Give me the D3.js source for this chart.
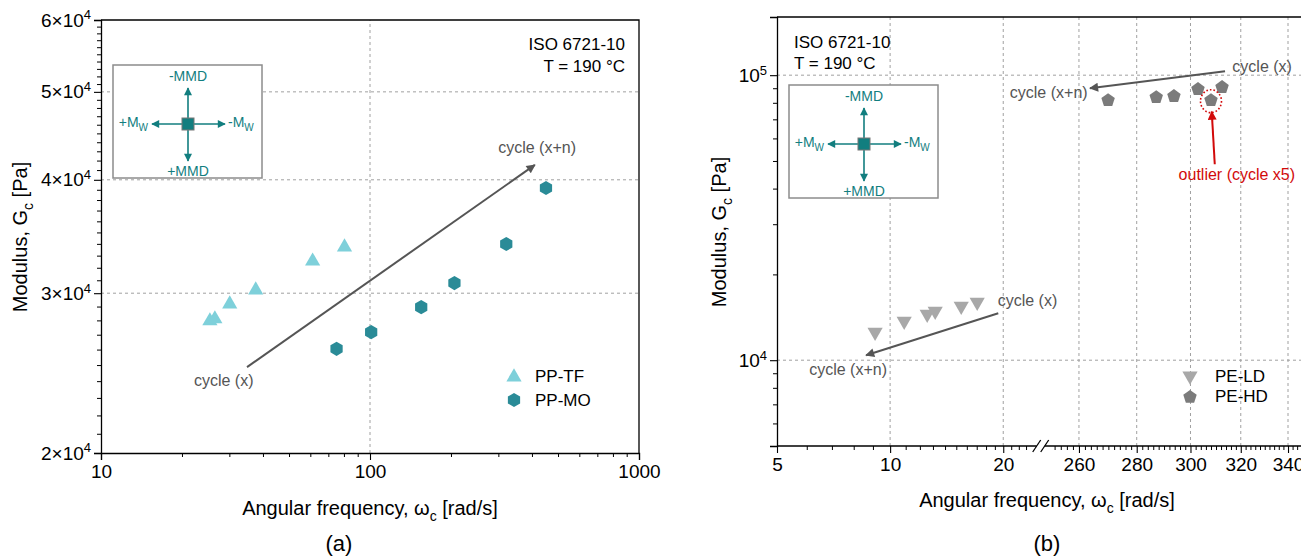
<!DOCTYPE html>
<html>
<head>
<meta charset="utf-8">
<script src="https://cdn.jsdelivr.net/npm/d3@7"></script>
<style>
body { margin: 0; background: #fff; }
svg text { font-family: "Liberation Sans", Arial, sans-serif; }
</style>
</head>
<body>
<svg id="chart" width="1301" height="558"></svg>
<script>
// ---- panel (a): PP ----
var ppTfFreq = [25.4, 26.5, 30.1, 37.6, 61.2, 80.4];
var ppTfMod  = [27960, 28100, 29180, 30240, 32540, 33730];
var ppMoFreq = [75.1, 101, 155, 206, 321, 451];
var ppMoMod  = [26050, 27180, 28960, 30780, 33990, 39180];

// ---- panel (b): PE ----
var peLdFreq = [9.12, 10.9, 12.55, 13.18, 15.46, 17.05];
var peLdMod  = [12540, 13700, 14500, 14850, 15470, 15980];
var peHdFreq = [269.9, 287.1, 293.7, 302.9, 312.4, 308.0];
var peHdMod  = [81700, 83700, 84400, 89300, 90760, 81700];
var outlierIdx = 5;

// tick labels
var aXTicks = [10, 100, 1000];
var aYTicks = [20000, 30000, 40000, 50000, 60000];
var bXTicksLow = [5, 10, 20];
var bXTicksHigh = [260, 280, 300, 320, 340];
var bYTicks = [10000, 100000];

var colTF = "#7ed0da", colMO = "#2a8b97", colLD = "#a8a8a8", colHD = "#7b7b7b";
var teal = "#127e7f", arrowGrey = "#555", red = "#d20a0a";

var svg = d3.select("#chart");

// custom polygon symbols
function polySymbol(n) {
    return {
        draw: function(ctx, size) {
            var r = Math.sqrt(size);
            for (var i = 0; i < n; i++) {
                var a = -Math.PI / 2 + i * 2 * Math.PI / n;
                if (i == 0) ctx.moveTo(r * Math.cos(a), r * Math.sin(a));
                else ctx.lineTo(r * Math.cos(a), r * Math.sin(a));
            }
            ctx.closePath();
        }
    };
}
var hexSym = d3.symbol().type(polySymbol(6)).size(50);
var pentSym = d3.symbol().type(polySymbol(5)).size(50);
var triSym = d3.symbol().type(d3.symbolTriangle).size(100);

var defs = svg.append("defs");
function head(id, col, w, h) {
    defs.append("marker")
        .attr("id", id).attr("viewBox", "0 0 10 10")
        .attr("refX", 9).attr("refY", 5)
        .attr("markerWidth", w).attr("markerHeight", h)
        .attr("markerUnits", "userSpaceOnUse")
        .attr("orient", "auto")
        .append("path").attr("d", "M0,0L10,5L0,10Z").attr("fill", col);
}
head("headGrey", arrowGrey, 12, 9);
head("headRed", red, 10, 9);
head("headTeal", teal, 9, 8);

function supLabels(g, fmt) {
    g.selectAll(".tick text").each(function(d) {
        var t = d3.select(this);
        var p = fmt(d);
        t.text(null);
        t.append("tspan").text(p[0]);
        t.append("tspan").attr("dy", "-0.55em").attr("font-size", "13px").text(p[1]);
    });
}

function styleAxis(g) {
    g.select(".domain").attr("stroke", "#000").attr("stroke-width", 1.3);
    g.selectAll(".tick line").attr("stroke", "#000").attr("stroke-width", 1.1);
    g.selectAll(".tick text").attr("font-size", "19px").attr("fill", "#000")
        .attr("font-family", "'Liberation Sans', Arial, sans-serif");
}

function minorTicks(from, to, step, skip) {
    var out = [];
    for (var v = from; v <= to + 1e-9; v += step) {
        var r = Math.round(v * 1000) / 1000;
        if (skip.indexOf(r) < 0) out.push(r);
    }
    return out;
}

function inset(left, top) {
    var g = svg.append("g").attr("transform", "translate(" + left + "," + top + ")");
    g.append("rect").attr("width", 149).attr("height", 113)
        .attr("fill", "#fff").attr("stroke", "#8c8c8c").attr("stroke-width", 1.5);
    var cx = 75, cy = 59;
    [[0, -36], [0, 37], [-36, 0], [37, 0]].forEach(function(d) {
        g.append("line").attr("x1", cx).attr("y1", cy)
            .attr("x2", cx + d[0]).attr("y2", cy + d[1])
            .attr("stroke", teal).attr("stroke-width", 1.6)
            .attr("marker-end", "url(#headTeal)");
    });
    g.append("rect").attr("x", cx - 6).attr("y", cy - 6).attr("width", 12).attr("height", 12)
        .attr("fill", teal).attr("stroke", "#777").attr("stroke-width", 1);
    var tf = "14px";
    g.append("text").attr("x", cx).attr("y", cy - 43).attr("text-anchor", "middle")
        .attr("font-size", tf).attr("fill", teal).text("-MMD");
    g.append("text").attr("x", cx).attr("y", cy + 52).attr("text-anchor", "middle")
        .attr("font-size", tf).attr("fill", teal).text("+MMD");
    var l = g.append("text").attr("x", cx - 40).attr("y", cy + 3).attr("text-anchor", "end")
        .attr("font-size", tf).attr("fill", teal);
    l.append("tspan").text("+M");
    l.append("tspan").attr("dy", 4).attr("font-size", "10px").text("W");
    var r = g.append("text").attr("x", cx + 40).attr("y", cy + 3).attr("text-anchor", "start")
        .attr("font-size", tf).attr("fill", teal);
    r.append("tspan").text("-M");
    r.append("tspan").attr("dy", 4).attr("font-size", "10px").text("W");
}

function annot(x, y, txt, col, anchor) {
    svg.append("text").attr("x", x).attr("y", y).attr("text-anchor", anchor || "middle")
        .attr("font-size", "16px").attr("fill", col || "#555").text(txt);
}

function subTitle(x, y, main, sub, rest, rot) {
    var t = svg.append("text").attr("text-anchor", "middle").attr("font-size", "20px").attr("fill", "#000")
        .attr("transform", "translate(" + x + "," + y + ")" + (rot ? " rotate(-90)" : ""));
    t.append("tspan").text(main);
    t.append("tspan").attr("dy", 6).attr("font-size", "14px").text(sub);
    t.append("tspan").attr("dy", -6).text(rest);
}

// =================== panel (a) ===================
var xA = d3.scaleLog().domain([10, 1000]).range([101, 639]);
var yA = d3.scaleLog().domain([20000, 60000]).range([453, 20]);

var gridA = svg.append("g").attr("stroke", "#a0a0a0").attr("stroke-dasharray", "3,3").attr("stroke-width", 1);
gridA.selectAll(".gx").data([100]).enter().append("line")
    .attr("x1", function(d) { return xA(d); }).attr("x2", function(d) { return xA(d); })
    .attr("y1", yA(20000)).attr("y2", yA(60000));
gridA.selectAll(".gy").data([30000, 40000, 50000]).enter().append("line")
    .attr("x1", xA(10)).attr("x2", xA(1000))
    .attr("y1", function(d) { return yA(d); }).attr("y2", function(d) { return yA(d); });

inset(113, 65);

// frame top/right
svg.append("path").attr("d", "M" + xA(10) + "," + yA(60000) + "H" + xA(1000) + "V" + yA(20000))
    .attr("fill", "none").attr("stroke", "#000").attr("stroke-width", 1.3);

var axAx = svg.append("g").attr("transform", "translate(0," + yA(20000) + ")")
    .call(d3.axisBottom(xA).tickValues(aXTicks).tickFormat(d3.format("d")).tickSize(7).tickPadding(5));
styleAxis(axAx);
svg.append("g").attr("transform", "translate(0," + yA(20000) + ")")
    .call(d3.axisBottom(xA).tickValues(minorTicks(20, 90, 10, []).concat(minorTicks(200, 900, 100, [])))
        .tickFormat("").tickSize(4))
    .call(function(g) { g.select(".domain").remove(); g.selectAll("line").attr("stroke", "#000"); });

var ayAx = svg.append("g").attr("transform", "translate(" + xA(10) + ",0)")
    .call(d3.axisLeft(yA).tickValues(aYTicks).tickSize(7).tickPadding(3));
styleAxis(ayAx);
supLabels(ayAx, function(d) { return [(d / 10000) + "×10", "4"]; });
svg.append("g").attr("transform", "translate(" + xA(10) + ",0)")
    .call(d3.axisLeft(yA).tickValues(minorTicks(21000, 59000, 1000, [30000, 40000, 50000])).tickFormat("").tickSize(4))
    .call(function(g) { g.select(".domain").remove(); g.selectAll("line").attr("stroke", "#000"); });

// trend arrow (a)
var arrA = { x0: 34.9, y0: 24870, x1: 410, y1: 41540 };
svg.append("line").attr("x1", xA(arrA.x0)).attr("y1", yA(arrA.y0))
    .attr("x2", xA(arrA.x1)).attr("y2", yA(arrA.y1))
    .attr("stroke", arrowGrey).attr("stroke-width", 2).attr("marker-end", "url(#headGrey)");
annot(xA(28.6), yA(24010) + 5, "cycle (x)");
annot(xA(418), yA(43360) + 5, "cycle (x+n)");

svg.append("g").selectAll("path").data(d3.range(ppTfFreq.length)).enter().append("path")
    .attr("d", triSym).attr("fill", colTF)
    .attr("transform", function(i) { return "translate(" + xA(ppTfFreq[i]) + "," + yA(ppTfMod[i]) + ")"; });
svg.append("g").selectAll("path").data(d3.range(ppMoFreq.length)).enter().append("path")
    .attr("d", hexSym).attr("fill", colMO)
    .attr("transform", function(i) { return "translate(" + xA(ppMoFreq[i]) + "," + yA(ppMoMod[i]) + ")"; });

svg.append("text").attr("x", 625).attr("y", 50).attr("text-anchor", "end").attr("font-size", "17px").text("ISO 6721-10");
svg.append("text").attr("x", 625).attr("y", 72).attr("text-anchor", "end").attr("font-size", "17px").text("T = 190 °C");

// legend (a)
svg.append("path").attr("d", triSym).attr("fill", colTF).attr("transform", "translate(514,377)");
svg.append("text").attr("x", 535).attr("y", 382).attr("font-size", "17px").text("PP-TF");
svg.append("path").attr("d", hexSym).attr("fill", colMO).attr("transform", "translate(514,400)");
svg.append("text").attr("x", 535).attr("y", 406).attr("font-size", "17px").text("PP-MO");

subTitle(370, 515, "Angular frequency, ω", "c", " [rad/s]", false);
subTitle(27, 237, "Modulus, G", "c", " [Pa]", true);
svg.append("text").attr("x", 339).attr("y", 551).attr("text-anchor", "middle")
    .attr("font-family", "'Liberation Serif', 'Times New Roman', serif").attr("font-size", "22px").text("(a)");

// =================== panel (b) ===================
var xL = d3.scaleLog().domain([5, 24]).range([777, 1033]);
var xR = d3.scaleLog().domain([250, 350]).range([1048.4, 1310.6]);
var yB = d3.scaleLog().domain([5000, 160000]).range([446, 17]);
var yB0 = yB(5000);

var gridB = svg.append("g").attr("stroke", "#a0a0a0").attr("stroke-dasharray", "3,3").attr("stroke-width", 1);
gridB.selectAll(".gl").data([10, 20]).enter().append("line")
    .attr("x1", function(d) { return xL(d); }).attr("x2", function(d) { return xL(d); })
    .attr("y1", yB0).attr("y2", yB(160000));
gridB.selectAll(".gr").data(bXTicksHigh).enter().append("line")
    .attr("x1", function(d) { return xR(d); }).attr("x2", function(d) { return xR(d); })
    .attr("y1", yB0).attr("y2", yB(160000));
gridB.selectAll(".gy").data(bYTicks).enter().append("line")
    .attr("x1", xL(5)).attr("x2", 1301)
    .attr("y1", function(d) { return yB(d); }).attr("y2", function(d) { return yB(d); });

inset(789, 85);

svg.append("line").attr("x1", xL(5)).attr("x2", 1301).attr("y1", yB(160000)).attr("y2", yB(160000))
    .attr("stroke", "#000").attr("stroke-width", 1.3);

var bxL = svg.append("g").attr("transform", "translate(0," + yB0 + ")")
    .call(d3.axisBottom(xL).tickValues(bXTicksLow).tickFormat(d3.format("d")).tickSize(7).tickPadding(5));
styleAxis(bxL);
var bxR = svg.append("g").attr("transform", "translate(0," + yB0 + ")")
    .call(d3.axisBottom(xR).tickValues(bXTicksHigh).tickFormat(d3.format("d")).tickSize(7).tickPadding(5));
styleAxis(bxR);
bxL.select(".domain").remove();
bxR.select(".domain").remove();
var brk = (xL.range()[1] + xR.range()[0]) / 2;
svg.append("line").attr("x1", xL(5)).attr("x2", brk - 4).attr("y1", yB0).attr("y2", yB0)
    .attr("stroke", "#000").attr("stroke-width", 1.3);
svg.append("line").attr("x1", brk + 4).attr("x2", 1301).attr("y1", yB0).attr("y2", yB0)
    .attr("stroke", "#000").attr("stroke-width", 1.3);
[-4, 4].forEach(function(o) {
    svg.append("line").attr("x1", brk + o - 4).attr("y1", yB0 + 6).attr("x2", brk + o + 4).attr("y2", yB0 - 6)
        .attr("stroke", "#000").attr("stroke-width", 1.3);
});
svg.append("g").attr("transform", "translate(0," + yB0 + ")")
    .call(d3.axisBottom(xL).tickValues(minorTicks(6, 9, 1, []).concat(minorTicks(11, 19, 1, []), [21, 22, 23]))
        .tickFormat("").tickSize(4))
    .call(function(g) { g.select(".domain").remove(); g.selectAll("line").attr("stroke", "#000"); });
svg.append("g").attr("transform", "translate(0," + yB0 + ")")
    .call(d3.axisBottom(xR).tickValues(minorTicks(252, 348, 2, bXTicksHigh)).tickFormat("").tickSize(4))
    .call(function(g) { g.select(".domain").remove(); g.selectAll("line").attr("stroke", "#000"); });

var byAx = svg.append("g").attr("transform", "translate(" + xL(5) + ",0)")
    .call(d3.axisLeft(yB).tickValues(bYTicks).tickSize(7).tickPadding(3));
styleAxis(byAx);
supLabels(byAx, function(d) { return ["10", String(Math.round(Math.log10(d)))]; });
svg.append("g").attr("transform", "translate(" + xL(5) + ",0)")
    .call(d3.axisLeft(yB).tickValues(minorTicks(6000, 9000, 1000, []).concat(minorTicks(20000, 90000, 10000, [])))
        .tickFormat("").tickSize(4))
    .call(function(g) { g.select(".domain").remove(); g.selectAll("line").attr("stroke", "#000"); });

// arrows (b)
svg.append("line").attr("x1", xL(19.4)).attr("y1", yB(14620)).attr("x2", xL(8.63)).attr("y2", yB(10410))
    .attr("stroke", arrowGrey).attr("stroke-width", 2).attr("marker-end", "url(#headGrey)");
annot(xL(23.2), yB(16110) + 5, "cycle (x)");
annot(xL(7.73), yB(9224) + 5, "cycle (x+n)");
svg.append("line").attr("x1", xR(313.6)).attr("y1", yB(103300)).attr("x2", xR(263.7)).attr("y2", yB(90010))
    .attr("stroke", arrowGrey).attr("stroke-width", 2).attr("marker-end", "url(#headGrey)");
annot(xR(328.9), yB(106700) + 5, "cycle (x)");
annot(xR(250.1), yB(86480) + 5, "cycle (x+n)");

svg.append("g").selectAll("path").data(d3.range(peLdFreq.length)).enter().append("path")
    .attr("d", triSym).attr("fill", colLD)
    .attr("transform", function(i) { return "translate(" + xL(peLdFreq[i]) + "," + yB(peLdMod[i]) + ") rotate(180)"; });
svg.append("g").selectAll("path").data(d3.range(peHdFreq.length)).enter().append("path")
    .attr("d", pentSym).attr("fill", colHD)
    .attr("transform", function(i) { return "translate(" + xR(peHdFreq[i]) + "," + yB(peHdMod[i]) + ")"; });

// outlier mark
svg.append("ellipse").attr("cx", xR(peHdFreq[outlierIdx])).attr("cy", yB(peHdMod[outlierIdx]) + 1)
    .attr("rx", 10.5).attr("ry", 11.5).attr("fill", "none")
    .attr("stroke", red).attr("stroke-width", 1.6).attr("stroke-dasharray", "1.6,2");
svg.append("line").attr("x1", xR(309.5)).attr("y1", yB(48720)).attr("x2", xR(308.3)).attr("y2", yB(74500))
    .attr("stroke", red).attr("stroke-width", 2).attr("marker-end", "url(#headRed)");
annot(xR(318.4), yB(44570) + 5, "outlier (cycle x5)", red);

svg.append("text").attr("x", 794).attr("y", 48).attr("font-size", "17px").text("ISO 6721-10");
svg.append("text").attr("x", 794).attr("y", 69).attr("font-size", "17px").text("T = 190 °C");

// legend (b)
svg.append("path").attr("d", triSym).attr("fill", colLD).attr("transform", "translate(1190,376) rotate(180)");
svg.append("text").attr("x", 1215).attr("y", 382).attr("font-size", "17px").text("PE-LD");
svg.append("path").attr("d", pentSym).attr("fill", colHD).attr("transform", "translate(1190,397)");
svg.append("text").attr("x", 1215).attr("y", 402).attr("font-size", "17px").text("PE-HD");

subTitle(1047, 507, "Angular frequency, ω", "c", " [rad/s]", false);
subTitle(726, 232, "Modulus, G", "c", " [Pa]", true);
svg.append("text").attr("x", 1047).attr("y", 551).attr("text-anchor", "middle")
    .attr("font-family", "'Liberation Serif', 'Times New Roman', serif").attr("font-size", "22px").text("(b)");
</script>
</body>
</html>
